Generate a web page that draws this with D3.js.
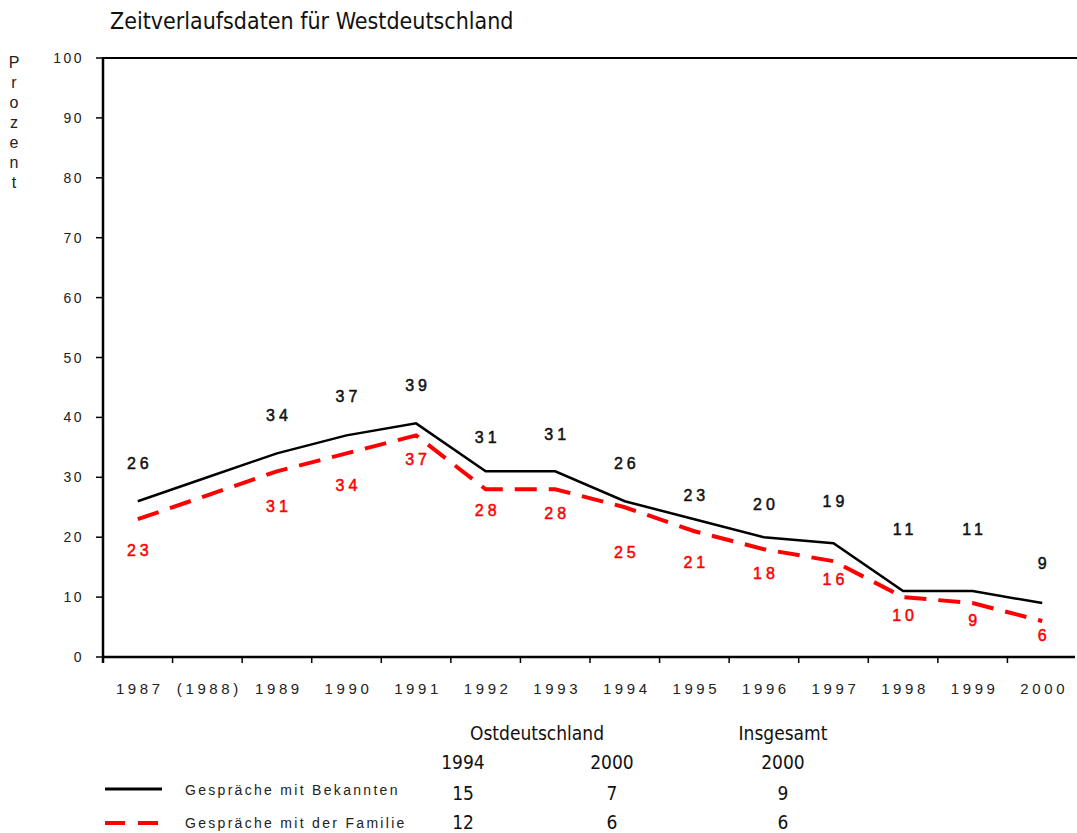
<!DOCTYPE html>
<html>
<head>
<meta charset="utf-8">
<script src="https://cdn.jsdelivr.net/npm/d3@7"></script>
<style>
  body { margin: 0; background: #fff; }
  svg { display: block; }
  .cond { font-family: "Liberation Sans Narrow", "DejaVu Sans Condensed", "DejaVu Sans", sans-serif; }
  .sp { font-family: "Liberation Sans", Arial, sans-serif; }
</style>
</head>
<body>
<div id="chart"></div>
<script>
// data
const years = ["1987", "(1988)", "1989", "1990", "1991", "1992", "1993",
               "1994", "1995", "1996", "1997", "1998", "1999", "2000"];
const bekannten = [26, 30, 34, 37, 39, 31, 31, 26, 23, 20, 19, 11, 11, 9];
const familie   = [23, 27, 31, 34, 37, 28, 28, 25, 21, 18, 16, 10, 9, 6];
// which points carry a value label (1988 has none)
const labelled  = [true, false, true, true, true, true, true, true, true, true, true, true, true, true];
const yTicks = [0, 10, 20, 30, 40, 50, 60, 70, 80, 90, 100];

const tableHeads = ["Ostdeutschland", "Insgesamt"];
const tableYears = ["1994", "2000", "2000"];
const tableBekannten = [15, 7, 9];
const tableFamilie = [12, 6, 6];
const seriesNames = ["Gespräche mit Bekannten", "Gespräche mit der Familie"];

// layout: pixel nudges of the value labels (label centre relative to its point)
const blackDy = [-38, 0, -38, -39, -38, -34, -37, -38, -24, -33, -42, -62, -62, -40];
const redDy   = [31, 0, 35, 32, 24, 21, 24, 45, 31, 24, 18, 18, 17, 14];

const width = 1077, height = 833;
const plotL = 103, plotR = 1077, plotT = 58, plotB = 657;

const svg = d3.select("#chart").append("svg")
    .attr("width", width)
    .attr("height", height);

const x = d3.scaleBand().domain(years).range([plotL, plotR]).padding(0);
const y = d3.scaleLinear().domain([0, 100]).range([plotB, plotT]);
const cx = d => x(d) + x.bandwidth() / 2;

// title
svg.append("text")
    .attr("class", "cond")
    .attr("x", 110).attr("y", 29)
    .attr("font-size", 23)
    .attr("fill", "#111")
    .text("Zeitverlaufsdaten für Westdeutschland");

// y label, stacked letters
svg.append("g").selectAll("text")
    .data("Prozent".split(""))
    .enter().append("text")
    .attr("class", "sp")
    .attr("x", 14)
    .attr("y", (d, i) => 68 + i * 20)
    .attr("text-anchor", "middle")
    .attr("font-size", 16)
    .attr("fill", "#222")
    .text(d => d);

// frame: top line, y axis, x axis
svg.append("line")
    .attr("x1", plotL).attr("x2", plotR).attr("y1", plotT).attr("y2", plotT)
    .attr("stroke", "#000").attr("stroke-width", 2);
svg.append("line")
    .attr("x1", plotL).attr("x2", plotL).attr("y1", plotT - 1).attr("y2", plotB + 6)
    .attr("stroke", "#000").attr("stroke-width", 2.5);
svg.append("line")
    .attr("x1", plotL - 1).attr("x2", 1075).attr("y1", plotB).attr("y2", plotB)
    .attr("stroke", "#000").attr("stroke-width", 2.5);

// y ticks
const yAxis = svg.append("g");
yAxis.selectAll("line").data(yTicks).enter().append("line")
    .attr("x1", plotL - 7).attr("x2", plotL)
    .attr("y1", d => y(d)).attr("y2", d => y(d))
    .attr("stroke", "#000").attr("stroke-width", 1.5);
yAxis.selectAll("text").data(yTicks).enter().append("text")
    .attr("class", "sp")
    .attr("x", 84)
    .attr("y", d => y(d) + 5)
    .attr("text-anchor", "end")
    .attr("font-size", 14)
    .attr("letter-spacing", 2.5)
    .attr("fill", "#222")
    .text(d => d);

// x ticks at band boundaries
const xAxis = svg.append("g");
xAxis.selectAll("line").data(years).enter().append("line")
    .attr("x1", d => x(d)).attr("x2", d => x(d))
    .attr("y1", plotB).attr("y2", plotB + 6)
    .attr("stroke", "#000").attr("stroke-width", 1.5);
xAxis.selectAll("text").data(years).enter().append("text")
    .attr("class", "sp")
    .attr("x", d => cx(d) + 2)
    .attr("y", 694)
    .attr("text-anchor", "middle")
    .attr("font-size", 15)
    .attr("letter-spacing", 3.6)
    .attr("fill", "#222")
    .text(d => d);

// lines
const line = vals => d3.line()
    .x((d, i) => cx(years[i]))
    .y(d => y(d))(vals);

svg.append("path")
    .attr("d", line(familie))
    .attr("fill", "none")
    .attr("stroke", "#ff0000")
    .attr("stroke-width", 4)
    .attr("stroke-dasharray", "22,12");

svg.append("path")
    .attr("d", line(bekannten))
    .attr("fill", "none")
    .attr("stroke", "#000")
    .attr("stroke-width", 2.5);

// value labels
svg.append("g").selectAll("text")
    .data(bekannten.map((v, i) => ({ v, i })).filter(d => labelled[d.i]))
    .enter().append("text")
    .attr("class", "sp")
    .attr("x", d => cx(years[d.i]) + 2)
    .attr("y", d => y(d.v) + blackDy[d.i] + 6)
    .attr("text-anchor", "middle")
    .attr("font-size", 16)
    .attr("letter-spacing", 4)
    .attr("fill", "#111")
    .attr("stroke", "#111")
    .attr("stroke-width", 0.5)
    .text(d => d.v);

svg.append("g").selectAll("text")
    .data(familie.map((v, i) => ({ v, i })).filter(d => labelled[d.i]))
    .enter().append("text")
    .attr("class", "sp")
    .attr("x", d => cx(years[d.i]) + 2)
    .attr("y", d => y(d.v) + redDy[d.i] + 6)
    .attr("text-anchor", "middle")
    .attr("font-size", 16)
    .attr("letter-spacing", 4)
    .attr("fill", "#ff0000")
    .attr("stroke", "#ff0000")
    .attr("stroke-width", 0.5)
    .text(d => d.v);

// table below the chart
const colX = [463, 612, 783];
const tbl = svg.append("g").attr("class", "cond").attr("font-size", 19).attr("fill", "#111");
tbl.append("text").attr("x", 537).attr("y", 740).attr("text-anchor", "middle").text(tableHeads[0]);
tbl.append("text").attr("x", 783).attr("y", 740).attr("text-anchor", "middle").text(tableHeads[1]);
tbl.selectAll(".yr").data(tableYears).enter().append("text")
    .attr("x", (d, i) => colX[i]).attr("y", 769).attr("text-anchor", "middle").text(d => d);
tbl.selectAll(".b").data(tableBekannten).enter().append("text")
    .attr("x", (d, i) => colX[i]).attr("y", 800).attr("text-anchor", "middle").text(d => d);
tbl.selectAll(".f").data(tableFamilie).enter().append("text")
    .attr("x", (d, i) => colX[i]).attr("y", 829).attr("text-anchor", "middle").text(d => d);

// legend
const leg = svg.append("g");
leg.append("line").attr("x1", 105).attr("x2", 162).attr("y1", 789).attr("y2", 789)
    .attr("stroke", "#000").attr("stroke-width", 3);
leg.append("line").attr("x1", 105).attr("x2", 162).attr("y1", 823).attr("y2", 823)
    .attr("stroke", "#ff0000").attr("stroke-width", 4).attr("stroke-dasharray", "20,13");
leg.selectAll("text").data(seriesNames).enter().append("text")
    .attr("class", "sp")
    .attr("x", 185)
    .attr("y", (d, i) => 795 + i * 33)
    .attr("font-size", 14)
    .attr("letter-spacing", 2.3)
    .attr("fill", "#222")
    .text(d => d);
</script>
</body>
</html>
